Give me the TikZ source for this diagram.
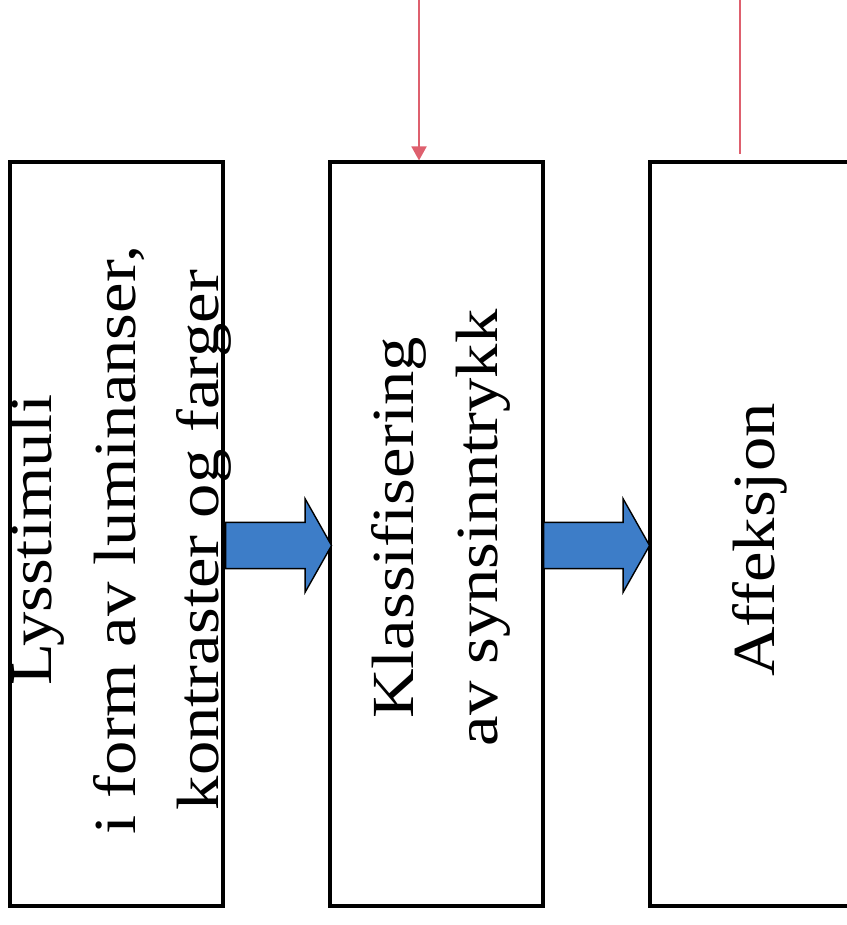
\documentclass[tikz,border=0pt]{standalone}
\usepackage{fontspec}
\newfontfamily\boxfont[FakeStretch=1.15]{Liberation Serif}
\usepackage{tikz}
\usetikzlibrary{arrows.meta, shapes.arrows}
\definecolor{arrowblue}{RGB}{61,125,200}
\definecolor{feedred}{RGB}{222,96,110}

\begin{document}
\begin{tikzpicture}[x=0.02cm, y=-0.02cm, >={Triangle[width=8.5pt,length=8pt]},
          box/.style={draw, line width=1.8pt, minimum width=4.26cm,
                      minimum height=14.88cm, inner sep=0pt},
          boxtext/.style={rotate=90, align=center, inner sep=0pt,
                      font=\boxfont\fontsize{34}{47.5}\selectfont},
          blockarrow/.style={single arrow, draw, line width=0.8pt, fill=arrowblue,
                      minimum height=2.12cm, inner xsep=0pt, inner ysep=0.45cm,
                      single arrow head extend=0.47cm, single arrow tip angle=121},
          feed/.style={draw=feedred, line width=1.2pt}]
        \useasboundingbox (0,0) rectangle (846,925);
        \node[box] (lys) at (116.5,534) {};
        \node[box] (kla) at (436.5,534) {};
        \node[box] (aff) at (756.5,534) {};
        \node[boxtext] (lystxt) at (121,540) {Lysstimuli\\i form av luminanser,\\kontraster og farger};
        \node[boxtext] (klatxt) at (441,528) {Klassifisering\\av synsinntrykk};
        \node[boxtext] (afftxt) at (760,540) {Affeksjon};
        \node[blockarrow] (pil1) at (272,545.5) {};
        \node[blockarrow] (pil2) at (590,545.5) {};
        \coordinate (inn1) at (419,0);
        \coordinate (inn2) at (740,0);
        \coordinate (slutt2) at (740,154);
        \draw[feed, ->] (inn1) -- (inn1 |- kla.north);
        \draw[feed] (inn2) -- (slutt2);
      \end{tikzpicture}
\end{document}
